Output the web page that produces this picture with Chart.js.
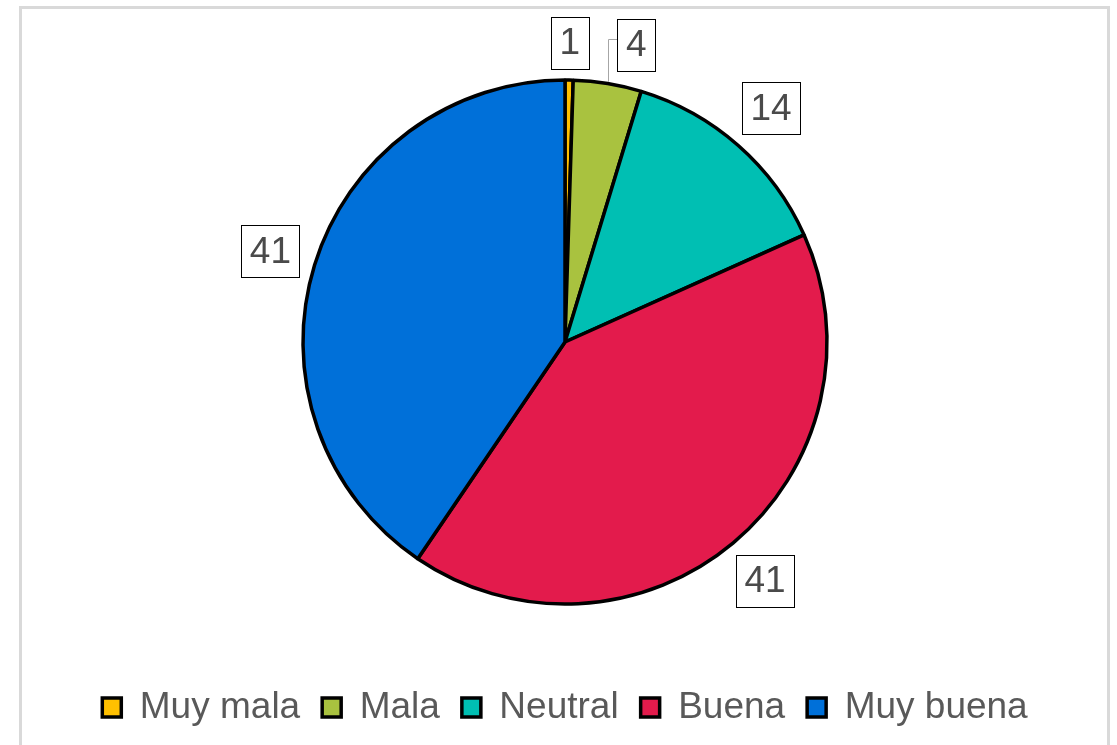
<!DOCTYPE html>
<html>
<head>
<meta charset="utf-8">
<script src="https://cdn.jsdelivr.net/npm/chart.js@4.4.1/dist/chart.umd.min.js"></script>
<style>
  html, body { margin: 0; padding: 0; background: #ffffff; }
  #wrap { position: relative; width: 1117px; height: 745px; overflow: hidden; }
  #frame { position: absolute; left: 19px; top: 6px; width: 1085px; height: 800px; border: 3px solid #d9d9d9; }
  #c { position: absolute; left: 0; top: 0; }
</style>
</head>
<body>
<div id="wrap">
  <div id="frame"></div>
  <canvas id="c" width="1117" height="745"></canvas>
</div>
<script>
// Data (share in %; labels shown rounded)
const categories = ["Muy mala", "Mala", "Neutral", "Buena", "Muy buena"];
const values = [0.5, 4.2, 13.6, 41.2, 40.5];
const colors = ["#FFC000", "#A9C23F", "#00BFB3", "#E31B4C", "#0070D9"];

const FONT = "'Liberation Sans', Arial, sans-serif";
const FONT_SIZE = 37;
const TEXT_COLOR = "#595959";

const outsideLabels = {
  id: 'outsideLabels',
  afterDatasetsDraw(chart) {
    const ctx = chart.ctx;
    const meta = chart.getDatasetMeta(0);
    const ds = chart.data.datasets[0];
    const bw = ds.borderWidth || 0;
    ctx.save();
    ctx.font = FONT_SIZE + "px " + FONT;
    ctx.textAlign = "center";
    ctx.textBaseline = "middle";
    let prev = null;
    meta.data.forEach((arc, i) => {
      const p = arc.getProps(['x', 'y', 'startAngle', 'endAngle', 'outerRadius'], true);
      const mid = (p.startAngle + p.endAngle) / 2;
      const cx = Math.cos(mid), cy = Math.sin(mid);
      const text = String(Math.round(ds.data[i]));
      const tw = ctx.measureText(text).width;
      const w = tw + 17, h = 52;
      const hw = w / 2, hh = h / 2;
      const R = p.outerRadius + bw / 2;
      const d = R + 9 + hw * Math.abs(cx) + hh * Math.abs(cy);
      let lx = p.x + d * cx, ly = p.y + d * cy;
      let shifted = false;
      if (prev) {
        const vOverlap = Math.abs(ly - prev.y) < (hh + prev.hh);
        const minLeft = prev.x + prev.hw + 29;
        if (vOverlap && lx - hw < minLeft && lx > prev.x) {
          lx = minLeft + hw;
          shifted = true;
        }
      }
      if (shifted) {
        const ax = p.x + R * cx, ay = p.y + R * cy;
        ctx.beginPath();
        ctx.strokeStyle = "#a6a6a6";
        ctx.lineWidth = 1;
        ctx.moveTo(Math.round(ax) + 0.5, ay);
        ctx.lineTo(Math.round(ax) + 0.5, Math.round(ly - 6) + 0.5);
        ctx.lineTo(lx - hw, Math.round(ly - 6) + 0.5);
        ctx.stroke();
      }
      const bx = Math.round(lx - hw) + 0.5, by = Math.round(ly - hh) + 0.5;
      ctx.fillStyle = "#ffffff";
      ctx.fillRect(bx, by, Math.round(w), h);
      ctx.strokeStyle = "#000000";
      ctx.lineWidth = 1;
      ctx.strokeRect(bx, by, Math.round(w), h);
      ctx.fillStyle = "#4a4a4a";
      ctx.fillText(text, lx, ly + 1);
      prev = {x: lx, y: ly, hw: hw, hh: hh};
    });
    ctx.restore();
  }
};

new Chart(document.getElementById('c'), {
  type: 'pie',
  data: {
    labels: categories,
    datasets: [{
      data: values,
      backgroundColor: colors,
      borderColor: "#000000",
      borderWidth: 3.5,
      hoverOffset: 0
    }]
  },
  options: {
    responsive: false,
    animation: false,
    radius: 262,
    layout: { padding: { top: 17, left: 13, right: 0, bottom: 9 } },
    plugins: {
      tooltip: { enabled: false },
      legend: {
        position: 'bottom',
        labels: {
          boxWidth: 19,
          boxHeight: 19,
          padding: 22,
          color: TEXT_COLOR,
          font: { family: FONT, size: FONT_SIZE }
        }
      }
    }
  },
  plugins: [outsideLabels]
});
</script>
</body>
</html>
